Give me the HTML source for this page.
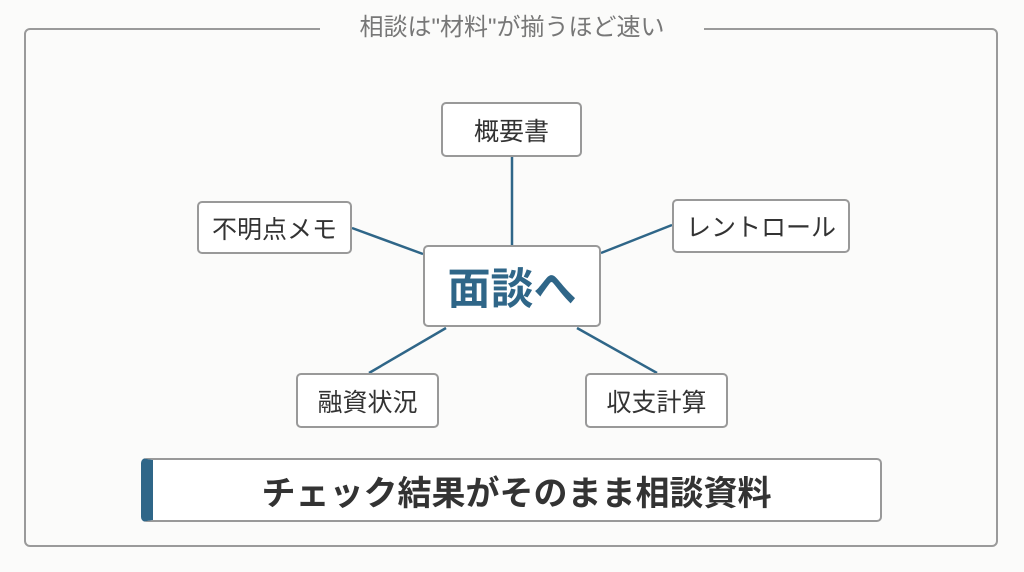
<!DOCTYPE html>
<html><head><meta charset="utf-8"><style>
body{margin:0;width:1024px;height:572px;background:#fbfbfa;font-family:"Liberation Sans","Noto Sans CJK JP",sans-serif;position:relative;overflow:hidden}
.frame{position:absolute;left:24px;top:28px;width:974px;height:519px;border:2px solid #9a9a9a;border-radius:6px;box-sizing:border-box}
.title{position:absolute;left:320px;top:13px;width:384px;text-align:center;background:#fbfbfa;color:#777;font-size:24px;line-height:30px;white-space:nowrap}
.n{position:absolute;box-sizing:border-box;border:2px solid #999;border-radius:5px;background:#fff;display:flex;align-items:center;justify-content:center;color:#333;font-size:25px}
</style></head><body>
<div class="frame"></div>
<div class="title">相談は"材料"が揃うほど速い</div>
<svg width="1024" height="572" style="position:absolute;left:0;top:0">
<g stroke="#2f6688" stroke-width="2.5">
<line x1="512" y1="157" x2="512" y2="245"/>
<line x1="352" y1="228" x2="423" y2="254"/>
<line x1="601" y1="253" x2="672" y2="225"/>
<line x1="446" y1="328" x2="369" y2="373"/>
<line x1="577" y1="328" x2="657" y2="373"/>
</g></svg>
<div class="n" style="left:441px;top:102px;width:141px;height:55px">概要書</div>
<div class="n" style="left:197px;top:201px;width:155px;height:53px">不明点メモ</div>
<div class="n" style="left:672px;top:199px;width:178px;height:54px">レントロール</div>
<div class="n" style="left:423px;top:245px;width:178px;height:82px;color:#2f6688;font-size:43px;font-weight:bold">面談へ</div>
<div class="n" style="left:296px;top:373px;width:143px;height:55px">融資状況</div>
<div class="n" style="left:585px;top:373px;width:143px;height:55px">収支計算</div>
<div class="n" style="left:141px;top:458px;width:741px;height:64px;font-size:34px;font-weight:bold;border-left:12px solid #2f6688">チェック結果がそのまま相談資料</div>
</body></html>
